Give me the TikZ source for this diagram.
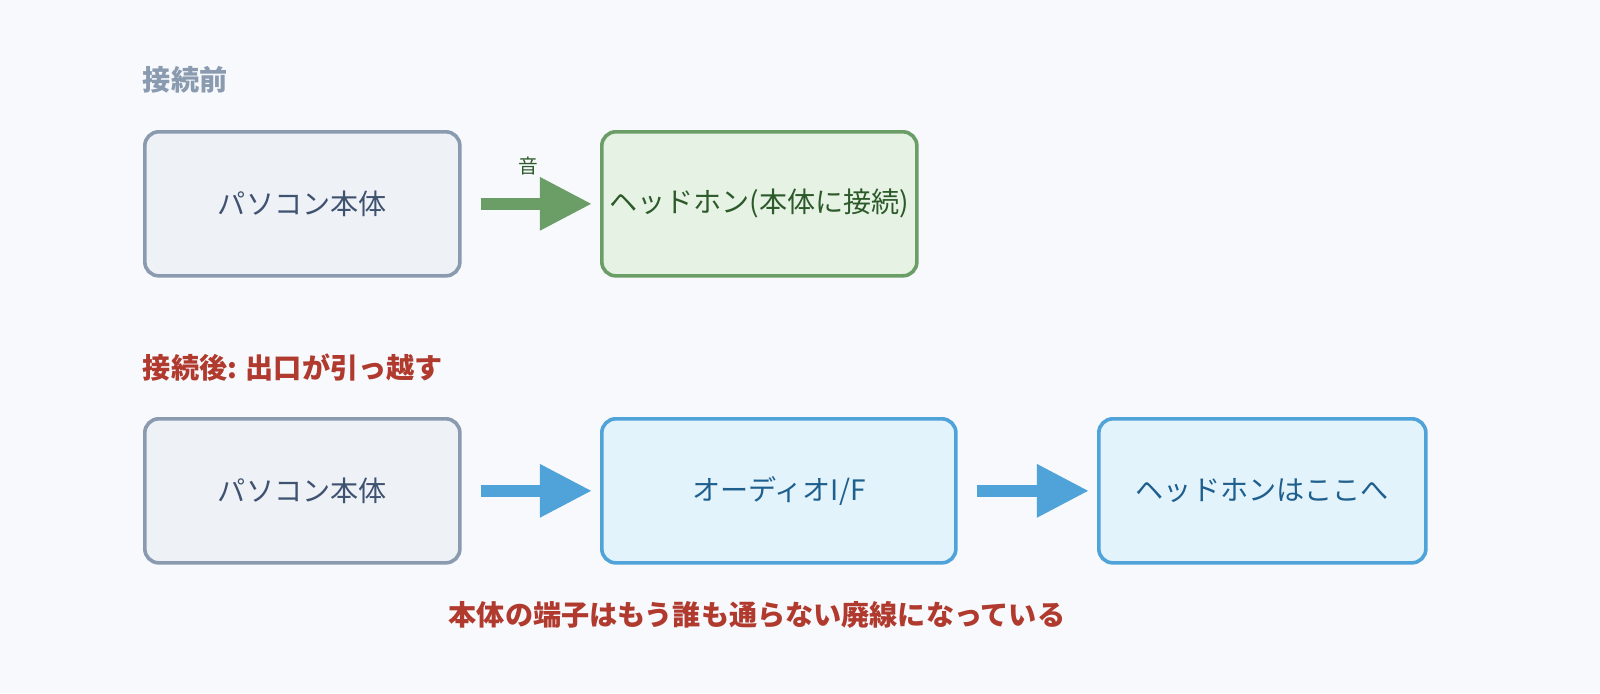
\documentclass[tikz,border=0pt]{standalone}
\usepackage{fontspec}
\setmainfont{Noto Sans CJK JP}
\usetikzlibrary{arrows.meta}
\definecolor{bgc}{HTML}{F8F9FD}
\definecolor{grayfill}{HTML}{EEF2F7}
\definecolor{graydraw}{HTML}{8A9BB0}
\definecolor{graytext}{HTML}{3F5270}
\definecolor{greenfill}{HTML}{E6F3E4}
\definecolor{greendraw}{HTML}{6A9E66}
\definecolor{greentext}{HTML}{2D5A2A}
\definecolor{bluefill}{HTML}{E2F3FB}
\definecolor{bluedraw}{HTML}{4FA3D8}
\definecolor{bluetext}{HTML}{1E5F8E}
\definecolor{redtext}{HTML}{B03A2E}
\tikzset{
  box/.style={rounded corners=0.35cm, line width=0.09cm, anchor=north west,
    minimum height=3.6cm, inner sep=0pt, font=\fontsize{20}{24}\selectfont},
  pcbox/.style={box, draw=graydraw, fill=grayfill, text=graytext},
  hpbox/.style={box, draw=greendraw, fill=greenfill, text=greentext},
  ifbox/.style={box, draw=bluedraw, fill=bluefill, text=bluetext},
  flow/.style={line width=0.3cm, -{Triangle[length=1.3cm,width=1.25cm]},
    shorten <=0.475cm, shorten >=0.2cm},
  head/.style={anchor=west, font=\fontsize{20}{24}\selectfont\bfseries}
}
\begin{document}
\begin{tikzpicture}[x=0.025cm, y=-0.025cm]
  \useasboundingbox (0,0) rectangle (1600,693);
  \fill[bgc] (0,0) rectangle (1600,693);
  % 接続前
  \node[head, text=graydraw] (t1) at (138,80) {接続前};
  \node[pcbox, minimum width=7.875cm] (pc1) at (143,130) {パソコン本体};
  \node[hpbox, minimum width=7.875cm] (hp1) at (600,130) {ヘッドホン(本体に接続)};
  \draw[flow, greendraw] (pc1.east) -- (hp1.west);
  \node[font=\fontsize{14}{16}\selectfont, text=greentext] (snd) at (528,166) {音};
  % 接続後
  \node[head, text=redtext] (t2) at (138,368) {接続後: 出口が引っ越す};
  \node[pcbox, minimum width=7.875cm] (pc2) at (143,417) {パソコン本体};
  \node[ifbox, minimum width=8.85cm] (if2) at (600,417) {オーディオI/F};
  \node[ifbox, minimum width=8.175cm] (hp2) at (1097,417) {ヘッドホンはここへ};
  \draw[flow, bluedraw] (pc2.east) -- (if2.west);
  \draw[flow, bluedraw] (if2.east) -- (hp2.west);
  \node[font=\fontsize{20}{24}\selectfont\bfseries, text=redtext] (note) at (757,615) {本体の端子はもう誰も通らない廃線になっている};
\end{tikzpicture}
\end{document}
